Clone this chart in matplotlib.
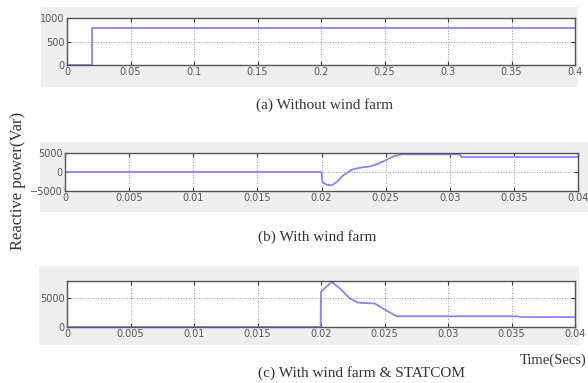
import matplotlib
matplotlib.use('Agg')
import matplotlib.pyplot as plt
from matplotlib.patches import Rectangle

# (a) sem parque eolico
t_a = [0, 0.02, 0.02, 0.4]
q_a = [0, 0, 780, 780]

# (b) com parque eolico
t_b = [0, 0.02, 0.02006, 0.0204, 0.0208, 0.02119, 0.0217, 0.02236, 0.0230, 0.0238,
       0.02443, 0.0251, 0.0256, 0.02625, 0.0308, 0.0309, 0.04]
q_b = [0, 0, -2630, -3330, -3500, -2630, -870, 610, 1140, 1490,
       2190, 3250, 4120, 4650, 4650, 3950, 3950]

# (c) com parque eolico & STATCOM
t_c = [0, 0.01997, 0.0200, 0.02018, 0.02084, 0.0215, 0.02228, 0.0229, 0.02425,
       0.0249, 0.02596, 0.0354, 0.0357, 0.04]
q_c = [0, 0, 5950, 6350, 7650, 6520, 4820, 4140, 3970,
       3120, 1820, 1820, 1700, 1700]

captions = ['(a) Without wind farm', '(b) With wind farm', '(c) With wind farm & STATCOM']

fig = plt.figure(figsize=(5.88, 3.83), dpi=100)
W, H = 588, 383

def px_rect(x0, y0, x1, y1):
    return [x0 / W, 1 - y1 / H, (x1 - x0) / W, (y1 - y0) / H]

# fundos cinza estilo MATLAB
for x0, y0, x1, y1 in [(41, 7, 578, 87), (40, 142, 588, 212), (39, 266, 579, 345)]:
    r = px_rect(x0, y0, x1, y1)
    fig.patches.append(Rectangle((r[0], r[1]), r[2], r[3], transform=fig.transFigure,
                                 facecolor='#efefef', edgecolor='none', zorder=-10))

ax_a = fig.add_axes(px_rect(67, 18, 575, 65))
ax_b = fig.add_axes(px_rect(65, 153, 578, 191))
ax_c = fig.add_axes(px_rect(67, 281, 575, 327))

cor = '#8585ff'
ax_a.plot(t_a, q_a, color=cor, lw=1.3)
ax_a.set_xlim(0, 0.4)
ax_a.set_ylim(0, 1000)
ax_a.set_xticks([0, 0.05, 0.1, 0.15, 0.2, 0.25, 0.3, 0.35, 0.4])
ax_a.set_xticklabels(['0', '0.05', '0.1', '0.15', '0.2', '0.25', '0.3', '0.35', '0.4'])
ax_a.set_yticks([0, 500, 1000])

ax_b.plot(t_b, q_b, color=cor, lw=1.3)
ax_b.set_xlim(0, 0.04)
ax_b.set_ylim(-5000, 5000)
ax_b.set_yticks([-5000, 0, 5000])

ax_c.plot(t_c, q_c, color=cor, lw=1.3)
ax_c.set_xlim(0, 0.04)
ax_c.set_ylim(0, 7800)
ax_c.set_yticks([0, 5000])

for ax in [ax_b, ax_c]:
    ax.set_xticks([0, 0.005, 0.01, 0.015, 0.02, 0.025, 0.03, 0.035, 0.04])
    ax.set_xticklabels(['0', '0.005', '0.01', '0.015', '0.02', '0.025', '0.03', '0.035', '0.04'])

for ax in [ax_a, ax_b, ax_c]:
    ax.set_zorder(5)
    ax.grid(True, linestyle=':', color='#999999', lw=0.7)
    ax.tick_params(direction='in', length=3, width=0.8, labelsize=7, pad=1.5,
                   colors='#333333', top=True, right=True)
    for lab in ax.get_xticklabels() + ax.get_yticklabels():
        lab.set_family('Liberation Sans Narrow')
        lab.set_color('#555555')
    for s in ax.spines.values():
        s.set_color('#555555')
        s.set_linewidth(1.0)

serif = 'Liberation Serif'
fig.text(256 / W, 1 - 105 / H, captions[0], ha='left', va='center', fontsize=11, family=serif, color='#333333')
fig.text(258 / W, 1 - 237 / H, captions[1], ha='left', va='center', fontsize=11, family=serif, color='#333333')
fig.text(258 / W, 1 - 373 / H, captions[2], ha='left', va='center', fontsize=11, family=serif, color='#333333')
fig.text(586 / W, 1 - 360 / H, 'Time(Secs)', ha='right', va='center', fontsize=10.5, family=serif, color='#333333')
fig.text(18 / W, 1 - 181 / H, 'Reactive power(Var)', ha='center', va='center', rotation=90,
         fontsize=12, family=serif, color='#333333')

fig.savefig('out.png', dpi=100)
